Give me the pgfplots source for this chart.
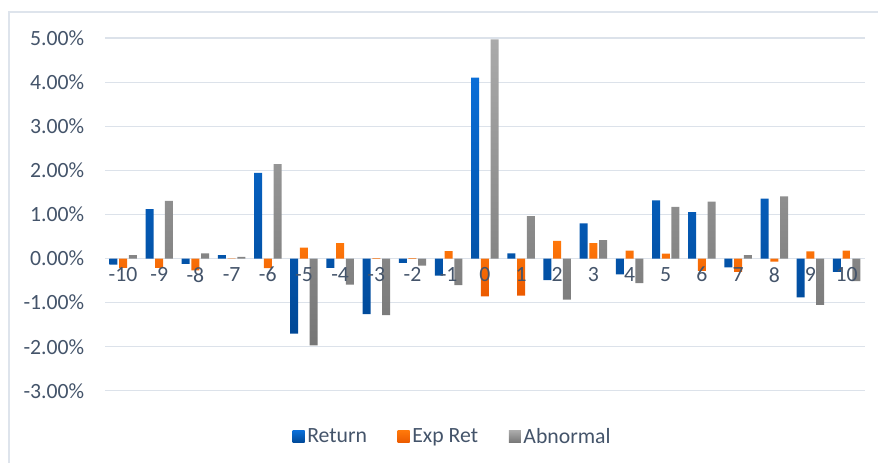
\documentclass[border=0pt]{standalone}
\usepackage{fontspec}
\setmainfont{Carlito}
\usepackage{pgfplots}
\pgfplotsset{compat=1.18}
\definecolor{txt}{RGB}{68,84,106}
\definecolor{gridc}{RGB}{220,226,234}
\definecolor{borderc}{RGB}{222,228,236}
\definecolor{bluet}{RGB}{10,110,215}
\definecolor{blueb}{RGB}{0,72,150}
\definecolor{oranget}{RGB}{255,120,10}
\definecolor{orangeb}{RGB}{235,90,0}
\definecolor{grayt}{RGB}{170,170,170}
\definecolor{grayb}{RGB}{118,118,118}
\begin{document}
\begin{tikzpicture}
\path (0,0) rectangle (659.25pt,348pt);
\draw[color=borderc, line width=0.9pt] (6.75pt,0.5pt) -- (6.75pt,339pt) -- (659pt,339pt);
\begin{axis}[
  at={(78.75pt,54.75pt)}, anchor=south west,
  scale only axis, width=570pt, height=264.75pt,
  ybar=1.3pt, bar width=6pt,
  xmin=-10.5, xmax=10.5, ymin=-3, ymax=5,
  axis x line=middle, axis y line=left,
  axis line style={draw=none},
  xtick=\empty,
  ytick={-3,-2,...,5},
  yticklabels={-3.00\%,-2.00\%,-1.00\%,0.00\%,1.00\%,2.00\%,3.00\%,4.00\%,5.00\%},
  major tick length=0pt,
  ymajorgrids, grid style={color=gridc, line width=0.8pt},
  tick label style={font=\fontsize{16.3}{19}\selectfont, text=txt},
  yticklabel style={xshift=-12pt},
  clip=false,
  legend style={at={(0.458,-0.13)}, anchor=center, draw=none, fill=none,
    legend columns=3, font=\fontsize{16.3}{19}\selectfont, text=txt,
    /tikz/every even column/.append style={column sep=21pt}},
  legend cell align=left,
]
\addplot[draw=none, top color=bluet, bottom color=blueb,
  legend image code/.code={\path[top color=bluet, bottom color=blueb] (0pt,-4.5pt) rectangle (9pt,4.5pt);}]
  coordinates {(-10,-0.14) (-9,1.12) (-8,-0.12) (-7,0.08) (-6,1.94) (-5,-1.70) (-4,-0.21) (-3,-1.26) (-2,-0.10) (-1,-0.39) (0,4.10) (1,0.12) (2,-0.49) (3,0.80) (4,-0.36) (5,1.32) (6,1.05) (7,-0.20) (8,1.36) (9,-0.88) (10,-0.30)};
\addplot[draw=none, top color=oranget, bottom color=orangeb,
  legend image code/.code={\path[top color=oranget, bottom color=orangeb] (0pt,-4.5pt) rectangle (9pt,4.5pt);}]
  coordinates {(-10,-0.21) (-9,-0.21) (-8,-0.27) (-7,-0.01) (-6,-0.22) (-5,0.25) (-4,0.35) (-3,0.01) (-2,0.01) (-1,0.17) (0,-0.86) (1,-0.84) (2,0.40) (3,0.35) (4,0.18) (5,0.11) (6,-0.28) (7,-0.30) (8,-0.07) (9,0.16) (10,0.18)};
\addplot[draw=none, top color=grayt, bottom color=grayb,
  legend image code/.code={\path[top color=grayt, bottom color=grayb] (0pt,-4.5pt) rectangle (9pt,4.5pt);}]
  coordinates {(-10,0.08) (-9,1.31) (-8,0.12) (-7,0.04) (-6,2.14) (-5,-1.97) (-4,-0.59) (-3,-1.28) (-2,-0.16) (-1,-0.60) (0,4.97) (1,0.96) (2,-0.93) (3,0.42) (4,-0.56) (5,1.17) (6,1.29) (7,0.08) (8,1.41) (9,-1.05) (10,-0.51)};
\legend{Return, Exp Ret, Abnormal}
\pgfplotsinvokeforeach{-10,-9,-8,-7,-6,-5,-4,-3,-2,-1,0,1,2,3,4,5,6,7,8,9,10}{
  \node[anchor=north, yshift=-3pt, inner sep=0.333em, font=\fontsize{16.3}{19}\selectfont, text=txt] at (axis cs:#1,0) {#1};
}
\end{axis}
\end{tikzpicture}
\end{document}
